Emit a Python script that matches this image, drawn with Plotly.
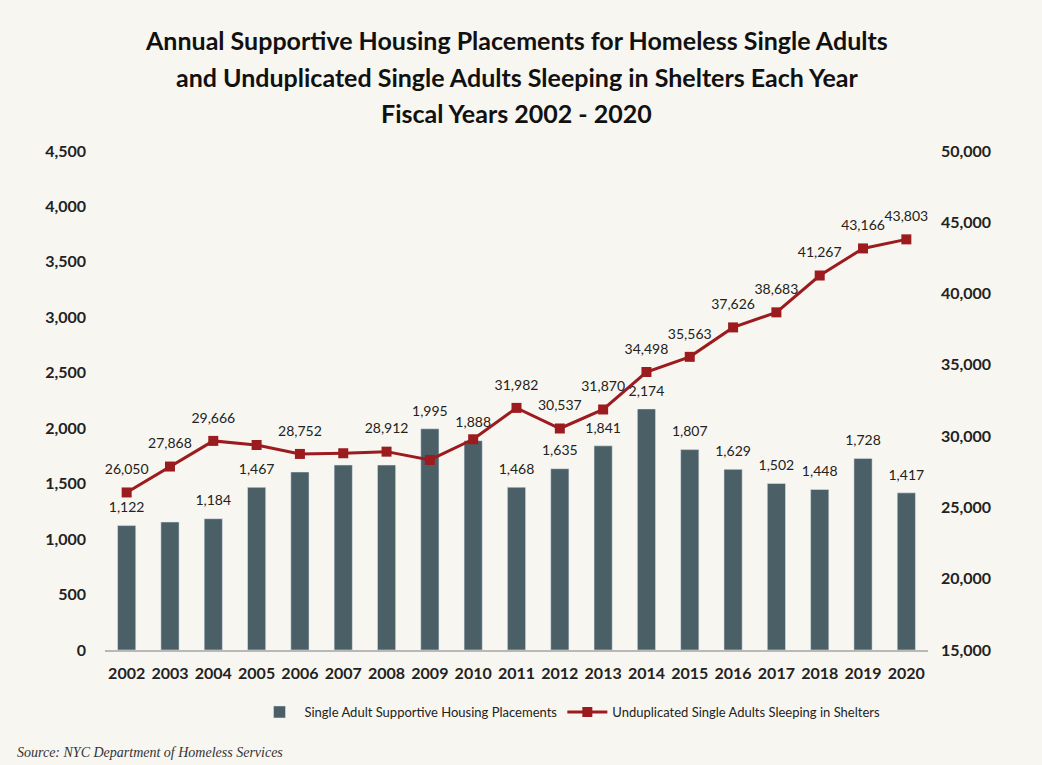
import plotly.graph_objects as go

years = [str(y) for y in range(2002, 2021)]
placements = [1122, 1154, 1184, 1467, 1605, 1668, 1668, 1995, 1888, 1468,
              1635, 1841, 2174, 1807, 1629, 1502, 1448, 1728, 1417]
sheltered = [26050, 27868, 29666, 29380, 28752, 28800, 28912, 28330, 29780, 31982,
             30537, 31870, 34498, 35563, 37626, 38683, 41267, 43166, 43803]
bar_label_shown = [True, False, True, True, False, False, False, True, True, True,
                   True, True, True, True, True, True, True, True, True]
line_label_shown = [True, True, True, False, True, False, True, False, False, True,
                    True, True, True, True, True, True, True, True, True]
title_lines = ["Annual Supportive Housing Placements for Homeless Single Adults",
               "and Unduplicated Single Adults Sleeping in Shelters Each Year",
               "Fiscal Years 2002 - 2020"]

bar_text = [f"{v:,}" if s else "" for v, s in zip(placements, bar_label_shown)]
line_text = [f"{v:,}" if s else "" for v, s in zip(sheltered, line_label_shown)]

FONT = "Lato"
BAR_COLOR = "#4b5f67"
LINE_COLOR = "#9b1b1f"
BG = "#f8f6f0"
PLOT_H = 499

fig = go.Figure()
fig.add_trace(go.Bar(
    x=years, y=placements, name="Single Adult Supportive Housing Placements",
    marker_color=BAR_COLOR,
))
fig.add_trace(go.Scatter(
    x=years, y=placements, mode="markers+text", showlegend=False,
    marker=dict(size=14, opacity=0), text=bar_text, textposition="top center",
    textfont=dict(family=FONT, size=14, color="#222"), cliponaxis=False, hoverinfo="skip",
))
fig.add_trace(go.Scatter(
    x=years, y=sheltered, yaxis="y2", name="Unduplicated Single Adults Sleeping in Shelters",
    mode="lines+markers", line=dict(color=LINE_COLOR, width=3),
    marker=dict(symbol="square", size=10, color=LINE_COLOR), cliponaxis=False,
))
fig.add_trace(go.Scatter(
    x=years, y=sheltered, yaxis="y2", mode="markers+text", showlegend=False,
    marker=dict(size=22, opacity=0), text=line_text, textposition="top center",
    textfont=dict(family=FONT, size=14, color="#222"), cliponaxis=False, hoverinfo="skip",
))

annotations = []
for i, line in enumerate(title_lines):
    annotations.append(dict(
        text=f"<b>{line}</b>", xref="paper", yref="paper", x=0.5, xanchor="center",
        y=(650 - (40 + 36.5 * i)) / PLOT_H, yanchor="middle",
        showarrow=False, font=dict(family=FONT, size=25, color="#111"),
    ))
annotations.append(dict(
    text="<i>Source: NYC Department of Homeless Services</i>",
    xref="paper", yref="paper", x=-90 / 823, xanchor="left",
    y=-(752 - 650) / PLOT_H, yanchor="middle",
    showarrow=False, font=dict(family="Liberation Serif", size=14, color="#333"),
))

fig.update_layout(
    width=1042, height=765,
    paper_bgcolor=BG, plot_bgcolor=BG,
    margin=dict(l=105, r=114, t=151, b=115, autoexpand=False),
    bargap=0.58,
    showlegend=True,
    legend=dict(orientation="h", x=0.565, xanchor="center", y=-(712 - 650) / PLOT_H, yanchor="middle",
                font=dict(family=FONT, size=13, color="#222"), traceorder="normal",
                itemwidth=40, bgcolor="rgba(0,0,0,0)"),
    xaxis=dict(range=[-0.5, 18.5], showgrid=False, showline=True, linecolor="#b8b8b8", linewidth=1.5,
               ticks="", automargin=False, ticklabelstandoff=8,
               tickfont=dict(family=FONT, size=16, color="#222", weight="bold")),
    yaxis=dict(range=[0, 4500], dtick=500, tickformat=",", showgrid=False, zeroline=False,
               showline=False, ticks="", automargin=False, ticklabelstandoff=18,
               tickfont=dict(family=FONT, size=16, color="#222", weight="bold")),
    yaxis2=dict(range=[15000, 50000], dtick=5000, tickformat=",", overlaying="y", side="right",
                showgrid=False, zeroline=False, showline=False, ticks="", automargin=False,
                ticklabelstandoff=12,
                tickfont=dict(family=FONT, size=16, color="#222", weight="bold")),
    annotations=annotations,
)

fig.write_html("out.html", config={"displayModeBar": False},
               post_script="document.body.style.margin='0';")
